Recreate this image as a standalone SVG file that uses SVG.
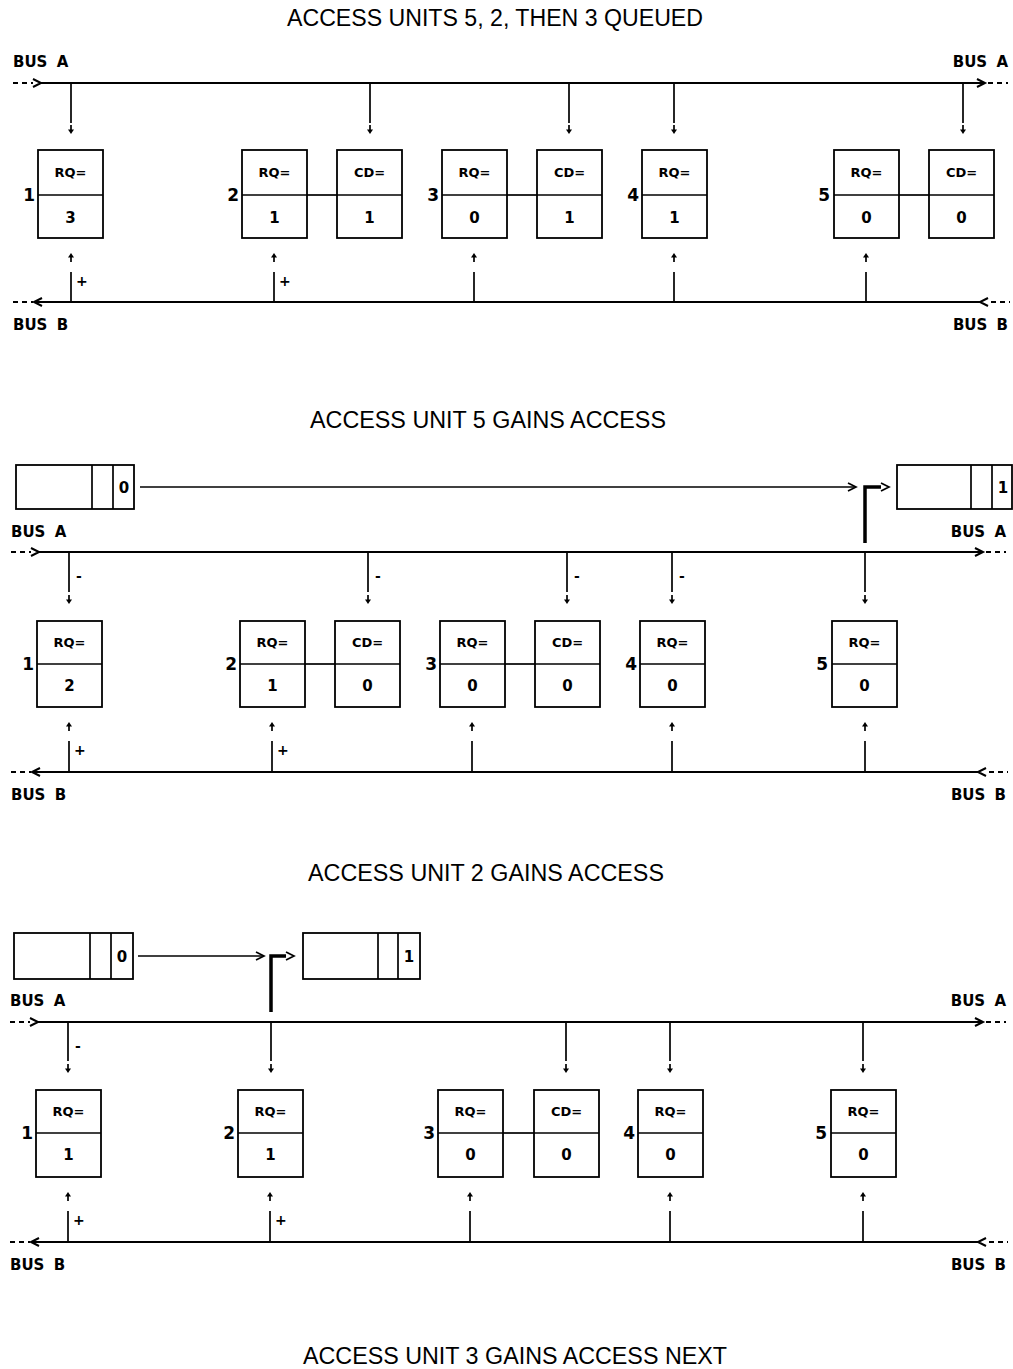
<svg xmlns="http://www.w3.org/2000/svg" xmlns:xlink="http://www.w3.org/1999/xlink" width="1013" height="1369" viewBox="0 0 1013 1369">
<style>
.t{font-family:"Liberation Sans",Arial,sans-serif;font-size:23px;fill:#000;text-anchor:middle}
.bus{font-family:"DejaVu Sans",sans-serif;font-weight:bold;font-size:15px;fill:#000;word-spacing:4px}
.busr{font-family:"DejaVu Sans",sans-serif;font-weight:bold;font-size:15px;fill:#000;word-spacing:4px;text-anchor:end}
.lbl{font-family:"DejaVu Sans",sans-serif;font-weight:bold;font-size:13px;fill:#000;text-anchor:middle}
.val{font-family:"DejaVu Sans",sans-serif;font-weight:bold;font-size:15px;fill:#000;text-anchor:middle}
.num{font-family:"DejaVu Sans",sans-serif;font-weight:bold;font-size:17px;fill:#000;text-anchor:end}
.sg{font-family:"DejaVu Sans",sans-serif;font-weight:bold;font-size:14px;fill:#000}
.bx{fill:#fff;stroke:#000;stroke-width:1.8}
.ln{fill:none;stroke:#000;stroke-width:1.7}
.bl{fill:none;stroke:#000;stroke-width:2}
.dash{fill:none;stroke:#000;stroke-width:2;stroke-dasharray:5 4}
.thick{fill:none;stroke:#000;stroke-width:3.5}
</style>
<defs>
<g id="dn"><line x1="0" y1="-9" x2="0" y2="-3" stroke="#000" stroke-width="1.7"/><polygon points="-3,-4.5 3,-4.5 0,0" fill="#000"/></g>
<g id="up"><line x1="0" y1="9" x2="0" y2="3" stroke="#000" stroke-width="1.7"/><polygon points="-3,4.5 3,4.5 0,0" fill="#000"/></g>
</defs>

<!-- ============ PANEL 1 ============ -->
<text class="t" x="495" y="26" textLength="416" lengthAdjust="spacingAndGlyphs">ACCESS UNITS 5, 2, THEN 3 QUEUED</text>
<text class="bus" x="13" y="67">BUS A</text>
<text class="busr" x="1008" y="67">BUS A</text>
<text class="bus" x="13" y="330">BUS B</text>
<text class="busr" x="1008" y="330">BUS B</text>

<g id="p1-connectors">
<line class="dash" x1="13" y1="83" x2="33" y2="83"/>
<polyline class="bl" points="33,79 41,83 33,87"/>
<line class="bl" x1="41" y1="83" x2="984" y2="83"/>
<polyline class="bl" points="977,79 985,83 977,87"/>
<line class="dash" x1="988" y1="83" x2="1008" y2="83"/>
<line class="dash" x1="13" y1="302" x2="33" y2="302"/>
<polyline class="bl" points="42,298 34,302 42,306"/>
<line class="bl" x1="34" y1="302" x2="980" y2="302"/>
<polyline class="bl" points="988,298 980,302 988,306"/>
<line class="dash" x1="991" y1="302" x2="1010" y2="302"/>
<line class="ln" x1="71" y1="83" x2="71" y2="123"/><use xlink:href="#dn" x="71" y="134"/>
<line class="ln" x1="370" y1="83" x2="370" y2="123"/><use xlink:href="#dn" x="370" y="134"/>
<line class="ln" x1="569" y1="83" x2="569" y2="123"/><use xlink:href="#dn" x="569" y="134"/>
<line class="ln" x1="674" y1="83" x2="674" y2="123"/><use xlink:href="#dn" x="674" y="134"/>
<line class="ln" x1="963" y1="83" x2="963" y2="123"/><use xlink:href="#dn" x="963" y="134"/>
<line class="ln" x1="71" y1="302" x2="71" y2="272"/><use xlink:href="#up" x="71" y="253"/>
<line class="ln" x1="274" y1="302" x2="274" y2="272"/><use xlink:href="#up" x="274" y="253"/>
<line class="ln" x1="474" y1="302" x2="474" y2="272"/><use xlink:href="#up" x="474" y="253"/>
<line class="ln" x1="674" y1="302" x2="674" y2="272"/><use xlink:href="#up" x="674" y="253"/>
<line class="ln" x1="866" y1="302" x2="866" y2="272"/><use xlink:href="#up" x="866" y="253"/>
<text class="sg" x="76" y="286">+</text>
<text class="sg" x="279" y="286">+</text>
<line class="ln" x1="307" y1="195" x2="337" y2="195"/>
<line class="ln" x1="507" y1="195" x2="537" y2="195"/>
<line class="ln" x1="899" y1="195" x2="929" y2="195"/>
</g>

<g id="p1-u1"><rect class="bx" x="38" y="150" width="65" height="88"/><line class="ln" x1="38" y1="195" x2="103" y2="195"/><text class="lbl" x="70.5" y="177">RQ=</text><text class="val" x="70.5" y="223">3</text><text class="num" x="35" y="201">1</text></g>
<g id="p1-u2"><rect class="bx" x="242" y="150" width="65" height="88"/><line class="ln" x1="242" y1="195" x2="307" y2="195"/><text class="lbl" x="274.5" y="177">RQ=</text><text class="val" x="274.5" y="223">1</text><text class="num" x="239" y="201">2</text>
<rect class="bx" x="337" y="150" width="65" height="88"/><line class="ln" x1="337" y1="195" x2="402" y2="195"/><text class="lbl" x="369.5" y="177">CD=</text><text class="val" x="369.5" y="223">1</text></g>
<g id="p1-u3"><rect class="bx" x="442" y="150" width="65" height="88"/><line class="ln" x1="442" y1="195" x2="507" y2="195"/><text class="lbl" x="474.5" y="177">RQ=</text><text class="val" x="474.5" y="223">0</text><text class="num" x="439" y="201">3</text>
<rect class="bx" x="537" y="150" width="65" height="88"/><line class="ln" x1="537" y1="195" x2="602" y2="195"/><text class="lbl" x="569.5" y="177">CD=</text><text class="val" x="569.5" y="223">1</text></g>
<g id="p1-u4"><rect class="bx" x="642" y="150" width="65" height="88"/><line class="ln" x1="642" y1="195" x2="707" y2="195"/><text class="lbl" x="674.5" y="177">RQ=</text><text class="val" x="674.5" y="223">1</text><text class="num" x="639" y="201">4</text></g>
<g id="p1-u5"><rect class="bx" x="834" y="150" width="65" height="88"/><line class="ln" x1="834" y1="195" x2="899" y2="195"/><text class="lbl" x="866.5" y="177">RQ=</text><text class="val" x="866.5" y="223">0</text><text class="num" x="830" y="201">5</text>
<rect class="bx" x="929" y="150" width="65" height="88"/><line class="ln" x1="929" y1="195" x2="994" y2="195"/><text class="lbl" x="961.5" y="177">CD=</text><text class="val" x="961.5" y="223">0</text></g>

<!-- ============ PANEL 2 ============ -->
<text class="t" x="488" y="428" textLength="356" lengthAdjust="spacingAndGlyphs">ACCESS UNIT 5 GAINS ACCESS</text>
<text class="bus" x="11" y="537">BUS A</text>
<text class="busr" x="1006" y="537">BUS A</text>
<text class="bus" x="11" y="800">BUS B</text>
<text class="busr" x="1006" y="800">BUS B</text>

<g id="p2-slot-old"><rect class="bx" x="16" y="465" width="118" height="44"/><line class="ln" x1="92" y1="465" x2="92" y2="509"/><line class="ln" x1="113" y1="465" x2="113" y2="509"/><text class="val" x="124" y="493">0</text></g>
<g id="p2-slot-new"><rect class="bx" x="897" y="465" width="115" height="44"/><line class="ln" x1="971" y1="465" x2="971" y2="509"/><line class="ln" x1="992" y1="465" x2="992" y2="509"/><text class="val" x="1003" y="493">1</text></g>

<g id="p2-connectors">
<line class="ln" x1="140" y1="487" x2="856" y2="487"/>
<polyline class="ln" points="848,483 856,487 848,491"/>
<polyline class="thick" points="865,543 865,487 881,487"/>
<polyline class="ln" points="881,483 889,487 881,491"/>
<line class="dash" x1="11" y1="552" x2="31" y2="552"/>
<polyline class="bl" points="31,548 39,552 31,556"/>
<line class="bl" x1="39" y1="552" x2="982" y2="552"/>
<polyline class="bl" points="975,548 983,552 975,556"/>
<line class="dash" x1="986" y1="552" x2="1006" y2="552"/>
<line class="dash" x1="11" y1="772" x2="31" y2="772"/>
<polyline class="bl" points="40,768 32,772 40,776"/>
<line class="bl" x1="32" y1="772" x2="978" y2="772"/>
<polyline class="bl" points="986,768 978,772 986,776"/>
<line class="dash" x1="989" y1="772" x2="1008" y2="772"/>
<line class="ln" x1="69" y1="552" x2="69" y2="592"/><use xlink:href="#dn" x="69" y="604"/>
<line class="ln" x1="368" y1="552" x2="368" y2="592"/><use xlink:href="#dn" x="368" y="604"/>
<line class="ln" x1="567" y1="552" x2="567" y2="592"/><use xlink:href="#dn" x="567" y="604"/>
<line class="ln" x1="672" y1="552" x2="672" y2="592"/><use xlink:href="#dn" x="672" y="604"/>
<line class="ln" x1="865" y1="552" x2="865" y2="592"/><use xlink:href="#dn" x="865" y="604"/>
<text class="sg" x="76" y="581">-</text>
<text class="sg" x="375" y="581">-</text>
<text class="sg" x="574" y="581">-</text>
<text class="sg" x="679" y="581">-</text>
<line class="ln" x1="69" y1="772" x2="69" y2="741"/><use xlink:href="#up" x="69" y="722"/>
<line class="ln" x1="272" y1="772" x2="272" y2="741"/><use xlink:href="#up" x="272" y="722"/>
<line class="ln" x1="472" y1="772" x2="472" y2="741"/><use xlink:href="#up" x="472" y="722"/>
<line class="ln" x1="672" y1="772" x2="672" y2="741"/><use xlink:href="#up" x="672" y="722"/>
<line class="ln" x1="865" y1="772" x2="865" y2="741"/><use xlink:href="#up" x="865" y="722"/>
<text class="sg" x="74" y="755">+</text>
<text class="sg" x="277" y="755">+</text>
<line class="ln" x1="305" y1="664" x2="335" y2="664"/>
<line class="ln" x1="505" y1="664" x2="535" y2="664"/>
</g>

<g id="p2-u1"><rect class="bx" x="37" y="621" width="65" height="86"/><line class="ln" x1="37" y1="664" x2="102" y2="664"/><text class="lbl" x="69.5" y="647">RQ=</text><text class="val" x="69.5" y="691">2</text><text class="num" x="34" y="670">1</text></g>
<g id="p2-u2"><rect class="bx" x="240" y="621" width="65" height="86"/><line class="ln" x1="240" y1="664" x2="305" y2="664"/><text class="lbl" x="272.5" y="647">RQ=</text><text class="val" x="272.5" y="691">1</text><text class="num" x="237" y="670">2</text>
<rect class="bx" x="335" y="621" width="65" height="86"/><line class="ln" x1="335" y1="664" x2="400" y2="664"/><text class="lbl" x="367.5" y="647">CD=</text><text class="val" x="367.5" y="691">0</text></g>
<g id="p2-u3"><rect class="bx" x="440" y="621" width="65" height="86"/><line class="ln" x1="440" y1="664" x2="505" y2="664"/><text class="lbl" x="472.5" y="647">RQ=</text><text class="val" x="472.5" y="691">0</text><text class="num" x="437" y="670">3</text>
<rect class="bx" x="535" y="621" width="65" height="86"/><line class="ln" x1="535" y1="664" x2="600" y2="664"/><text class="lbl" x="567.5" y="647">CD=</text><text class="val" x="567.5" y="691">0</text></g>
<g id="p2-u4"><rect class="bx" x="640" y="621" width="65" height="86"/><line class="ln" x1="640" y1="664" x2="705" y2="664"/><text class="lbl" x="672.5" y="647">RQ=</text><text class="val" x="672.5" y="691">0</text><text class="num" x="637" y="670">4</text></g>
<g id="p2-u5"><rect class="bx" x="832" y="621" width="65" height="86"/><line class="ln" x1="832" y1="664" x2="897" y2="664"/><text class="lbl" x="864.5" y="647">RQ=</text><text class="val" x="864.5" y="691">0</text><text class="num" x="828" y="670">5</text></g>

<!-- ============ PANEL 3 ============ -->
<text class="t" x="486" y="881" textLength="356" lengthAdjust="spacingAndGlyphs">ACCESS UNIT 2 GAINS ACCESS</text>
<text class="bus" x="10" y="1006">BUS A</text>
<text class="busr" x="1006" y="1006">BUS A</text>
<text class="bus" x="10" y="1270">BUS B</text>
<text class="busr" x="1006" y="1270">BUS B</text>

<g id="p3-slot-old"><rect class="bx" x="14" y="933" width="119" height="46"/><line class="ln" x1="90" y1="933" x2="90" y2="979"/><line class="ln" x1="111" y1="933" x2="111" y2="979"/><text class="val" x="122" y="962">0</text></g>
<g id="p3-slot-new"><rect class="bx" x="303" y="933" width="117" height="46"/><line class="ln" x1="378" y1="933" x2="378" y2="979"/><line class="ln" x1="398" y1="933" x2="398" y2="979"/><text class="val" x="409" y="962">1</text></g>

<g id="p3-connectors">
<line class="ln" x1="138" y1="956" x2="264" y2="956"/>
<polyline class="ln" points="256,952 264,956 256,960"/>
<polyline class="thick" points="271,1012 271,956 286,956"/>
<polyline class="ln" points="286,952 294,956 286,960"/>
<line class="dash" x1="10" y1="1022" x2="30" y2="1022"/>
<polyline class="bl" points="30,1018 38,1022 30,1026"/>
<line class="bl" x1="38" y1="1022" x2="982" y2="1022"/>
<polyline class="bl" points="975,1018 983,1022 975,1026"/>
<line class="dash" x1="986" y1="1022" x2="1006" y2="1022"/>
<line class="dash" x1="10" y1="1242" x2="30" y2="1242"/>
<polyline class="bl" points="39,1238 31,1242 39,1246"/>
<line class="bl" x1="31" y1="1242" x2="978" y2="1242"/>
<polyline class="bl" points="986,1238 978,1242 986,1246"/>
<line class="dash" x1="989" y1="1242" x2="1008" y2="1242"/>
<line class="ln" x1="68" y1="1022" x2="68" y2="1061"/><use xlink:href="#dn" x="68" y="1073"/>
<line class="ln" x1="271" y1="1022" x2="271" y2="1061"/><use xlink:href="#dn" x="271" y="1073"/>
<line class="ln" x1="566" y1="1022" x2="566" y2="1061"/><use xlink:href="#dn" x="566" y="1073"/>
<line class="ln" x1="670" y1="1022" x2="670" y2="1061"/><use xlink:href="#dn" x="670" y="1073"/>
<line class="ln" x1="863" y1="1022" x2="863" y2="1061"/><use xlink:href="#dn" x="863" y="1073"/>
<text class="sg" x="75" y="1051">-</text>
<line class="ln" x1="68" y1="1242" x2="68" y2="1211"/><use xlink:href="#up" x="68" y="1192"/>
<line class="ln" x1="270" y1="1242" x2="270" y2="1211"/><use xlink:href="#up" x="270" y="1192"/>
<line class="ln" x1="470" y1="1242" x2="470" y2="1211"/><use xlink:href="#up" x="470" y="1192"/>
<line class="ln" x1="670" y1="1242" x2="670" y2="1211"/><use xlink:href="#up" x="670" y="1192"/>
<line class="ln" x1="863" y1="1242" x2="863" y2="1211"/><use xlink:href="#up" x="863" y="1192"/>
<text class="sg" x="73" y="1225">+</text>
<text class="sg" x="275" y="1225">+</text>
<line class="ln" x1="503" y1="1133" x2="534" y2="1133"/>
</g>

<g id="p3-u1"><rect class="bx" x="36" y="1090" width="65" height="87"/><line class="ln" x1="36" y1="1133" x2="101" y2="1133"/><text class="lbl" x="68.5" y="1116">RQ=</text><text class="val" x="68.5" y="1160">1</text><text class="num" x="33" y="1139">1</text></g>
<g id="p3-u2"><rect class="bx" x="238" y="1090" width="65" height="87"/><line class="ln" x1="238" y1="1133" x2="303" y2="1133"/><text class="lbl" x="270.5" y="1116">RQ=</text><text class="val" x="270.5" y="1160">1</text><text class="num" x="235" y="1139">2</text></g>
<g id="p3-u3"><rect class="bx" x="438" y="1090" width="65" height="87"/><line class="ln" x1="438" y1="1133" x2="503" y2="1133"/><text class="lbl" x="470.5" y="1116">RQ=</text><text class="val" x="470.5" y="1160">0</text><text class="num" x="435" y="1139">3</text>
<rect class="bx" x="534" y="1090" width="65" height="87"/><line class="ln" x1="534" y1="1133" x2="599" y2="1133"/><text class="lbl" x="566.5" y="1116">CD=</text><text class="val" x="566.5" y="1160">0</text></g>
<g id="p3-u4"><rect class="bx" x="638" y="1090" width="65" height="87"/><line class="ln" x1="638" y1="1133" x2="703" y2="1133"/><text class="lbl" x="670.5" y="1116">RQ=</text><text class="val" x="670.5" y="1160">0</text><text class="num" x="635" y="1139">4</text></g>
<g id="p3-u5"><rect class="bx" x="831" y="1090" width="65" height="87"/><line class="ln" x1="831" y1="1133" x2="896" y2="1133"/><text class="lbl" x="863.5" y="1116">RQ=</text><text class="val" x="863.5" y="1160">0</text><text class="num" x="827" y="1139">5</text></g>

<!-- ============ PANEL 4 title ============ -->
<text class="t" x="515" y="1364" textLength="424" lengthAdjust="spacingAndGlyphs">ACCESS UNIT 3 GAINS ACCESS NEXT</text>
</svg>
